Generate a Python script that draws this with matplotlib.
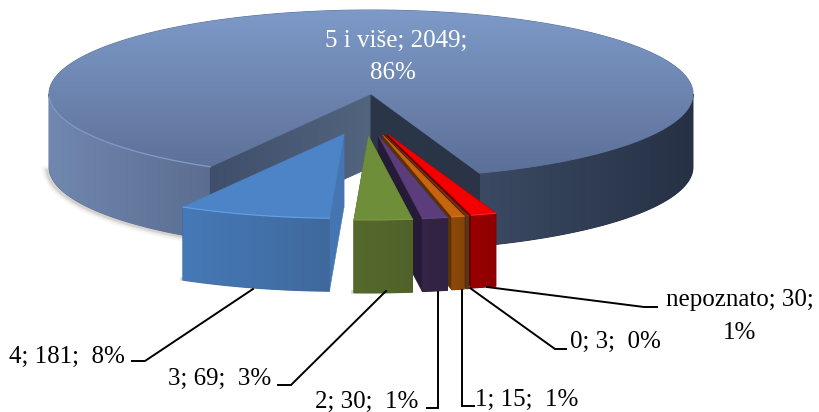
import numpy as np
import matplotlib
matplotlib.use('Agg')
import matplotlib.pyplot as plt
from matplotlib.colors import LinearSegmentedColormap
from matplotlib.patches import Polygon

# number of cases per category, clockwise order is reversed on the pie
categories = ['4', '3', '2', '1', '0', 'nepoznato', '5 i više']
values = [181, 69, 30, 15, 3, 30, 2049]
percents = ['8%', '3%', '1%', '1%', '0%', '1%', '86%']

plt.rcParams['font.family'] = ['Liberation Serif', 'DejaVu Serif']

fig = plt.figure(figsize=(8.19, 4.12), dpi=100)
ax = fig.add_axes([0, 0, 1, 1])
ax.set_xlim(0, 819)
ax.set_ylim(412, 0)
ax.axis('off')

# pie geometry in pixels
cx, cy = 371, 94
rx, ry = 322, 84
depth = 73
start = -30.0

z = [1]


def next_z():
    z[0] += 1
    return z[0]


def arc(x0, y0, a, b, n=80):
    t = np.radians(np.linspace(a, b, n))
    return np.column_stack([x0 + rx * np.sin(t), y0 + ry * np.cos(t)])


def fill(pts, c1, c2=None, vertical=False):
    # polygon with an optional linear gradient between two colours
    pts = np.asarray(pts)
    zo = next_z()
    if c2 is None:
        ax.add_patch(Polygon(pts, closed=True, fc=c1, ec=c1, lw=0.4, zorder=zo))
        return
    ax.add_patch(Polygon(pts, closed=True, fc=c2, ec=c2, lw=0.7, zorder=zo))
    cmap = LinearSegmentedColormap.from_list('g', [c1, c2])
    g = np.linspace(0, 1, 256)
    g = g.reshape(-1, 1) if vertical else g.reshape(1, -1)
    x0, x1 = pts[:, 0].min(), pts[:, 0].max()
    y0, y1 = pts[:, 1].min(), pts[:, 1].max()
    im = ax.imshow(g, cmap=cmap, extent=[x0, x1, y1, y0], origin='upper', aspect='auto',
                   interpolation='bilinear', zorder=zo)
    clip = Polygon(pts, closed=True, transform=ax.transData)
    im.set_clip_path(clip)


def side(x0, y0, a, b):
    top = arc(x0, y0, a, b)
    bottom = arc(x0, y0 + depth, a, b)
    return np.vstack([top, bottom[::-1]])


def cut(x0, y0, a):
    p = arc(x0, y0, a, a, 1)[0]
    return [(x0, y0), tuple(p), (p[0], p[1] + depth), (x0, y0 + depth)]


# slice angles, measured from straight down towards the right
total = sum(values)
spans = [v / total * 360 for v in values]
edges = start + np.concatenate([[0], np.cumsum(spans)])

# big slice: soft shadow, walls, then the top
big_a, big_b = edges[-2], edges[-1]
for w, al in [(7, 0.06), (4, 0.1), (2, 0.15)]:
    sh = arc(cx - 2, cy + depth + 1, 272, 330)
    ax.plot(sh[:, 0], sh[:, 1], color='#6b6355', lw=w, alpha=al, zorder=next_z())

fill(side(cx, cy, big_a, 90), '#3B4A63', '#263145')
fill(side(cx, cy, 270, big_b), '#7087AF', '#5B6E91')
fill(cut(cx, cy, big_b), '#3F4F6B', '#53647F')
fill(cut(cx, cy, big_a), '#2B3649', '#2A3446')
top_pts = np.vstack([[(cx, cy)], arc(cx, cy, big_a, big_b, 300)])
fill(top_pts, '#7E9AC8', '#5C7098', vertical=True)
rim = arc(cx, cy, 272, big_b)
ax.plot(rim[:, 0], rim[:, 1], color='#7F99C4', lw=1.0, zorder=next_z())

# exploded slices: top, front wall and cut wall colours
top_col = ['#4D83C7', '#6F8E3A', '#5A3D7A', '#C8640F', '#7F2A10', '#F40000']
front_a = ['#4679B8', '#55692C', '#352546', '#8C4A08', '#5C3418', '#9A0000']
front_b = ['#3F699C', '#50622A', '#31223F', '#824407', '#5C3418', '#8E0000']
wall_col = ['#4676B2', '#4A5B26', '#261B36', '#5E3006', '#3E2410', '#620404']
rim_col = ['#62A2E4', '#7C9B42', '#654588', '#D8701A', '#8A3010', '#FF2020']

# draw from right to left so the nearer slices overlap correctly
draw_order = [0, 5, 4, 3, 2, 1]
for i in draw_order:
    a, b = edges[i], edges[i + 1]
    mid = np.radians((a + b) / 2)
    x0 = cx - 6 + 75 * np.sin(mid)
    y0 = cy + 42 * np.cos(mid)
    # ground shadow around the base
    base = arc(x0, y0 + depth, a, b, 30)
    if i < 2:
        ax.plot(base[:, 0] - 1, base[:, 1] - 1, color='#8a8a8a', lw=2.5, alpha=0.35, zorder=next_z())
    # side faces
    fill(cut(x0, y0, a), wall_col[i])
    fill(cut(x0, y0, b), wall_col[i])
    fill(side(x0, y0, a, b), front_a[i], front_b[i])
    fill(np.vstack([[(x0, y0)], arc(x0, y0, a, b, 40)]), top_col[i])
    edge = arc(x0, y0, a, b, 40)
    ax.plot(edge[:, 0], edge[:, 1], color=rim_col[i], lw=0.8, zorder=next_z())

# leader lines
leaders = [
    ([253, 145, 132], [289, 361, 361]),
    ([386, 291, 278], [291, 385, 385]),
    ([438, 438, 427], [292, 408, 408]),
    ([462, 462, 474], [290, 406, 406]),
    ([470, 555, 566], [288, 349, 349]),
    ([487, 644, 657], [287, 307, 307]),
]
for lx, ly in leaders:
    ax.plot(lx, ly, color='black', lw=1.4, solid_joinstyle='miter', zorder=next_z())

# labels
fs = 18
zt = next_z() + 10
label_pos = [(67, 357), (220, 379), (367, 402), (527, 400), (615, 342)]
for i, (tx, ty) in enumerate(label_pos):
    ax.text(tx, ty, f'{categories[i]}; {values[i]};  {percents[i]}', fontsize=fs, ha='center', va='center', zorder=zt)
ax.text(740, 300, f'{categories[5]}; {values[5]};', fontsize=fs, ha='center', va='center', zorder=zt)
ax.text(740, 333, percents[5], fontsize=fs, ha='center', va='center', zorder=zt)
ax.text(396, 41, f'{categories[6]}; {values[6]};', fontsize=fs, color='white', ha='center', va='center', zorder=zt)
ax.text(393, 73, percents[6], fontsize=fs, color='white', ha='center', va='center', zorder=zt)

ax.set_xlim(0, 819)
ax.set_ylim(412, 0)
plt.savefig('out.png', dpi=100)
